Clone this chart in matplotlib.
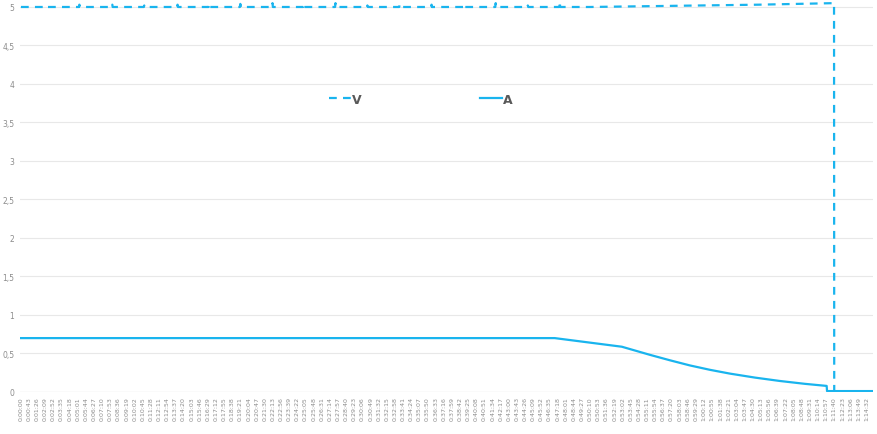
import matplotlib
matplotlib.use("Agg")
import matplotlib.pyplot as plt
from matplotlib.ticker import FuncFormatter

# time axis: one category per second, labels every 43 s
label_step = 43
n_labels = 105
x_max = 4505

# V (dashed) - baseline 5 with small spikes, slow rise, then cut off
v_spike_t = [139, 309, 483, 652, 828, 994, 1160, 1330, 1494, 1663, 1832,
             2002, 2171, 2341, 2510, 2680, 2849]
v_spike_h = [0.01, 0.03, 0.03, 0.02, 0.03, 0.04, 0.04, 0.05, 0.04, 0.05, 0.02,
             0.03, 0.03, 0.03, 0.05, 0.02, 0.07]
v_tail_t = [3006, 3300, 3600, 3900, 4200, 4299, 4300, 4505]
v_tail_v = [5.0, 5.01, 5.02, 5.03, 5.045, 5.05, 0.0, 0.0]

# A (solid)
a_t = [0, 2822, 3177, 3325, 3431, 3537, 3643, 3748, 3881, 4013, 4145, 4260, 4262, 4505]
a_v = [0.70, 0.70, 0.588, 0.483, 0.412, 0.345, 0.288, 0.239, 0.187, 0.143, 0.106, 0.079, 0.012, 0.012]

# build V polyline from baseline + spikes + tail
v_t = [0]
v_v = [5.0]
for t, h in zip(v_spike_t, v_spike_h):
    v_t += [t - 2, t, t + 2]
    v_v += [5.0, 5.0 + h, 5.0]
v_t += v_tail_t
v_v += v_tail_v

blue = "#19b4ee"
grey_txt = "#8c8c8c"

fig = plt.figure(figsize=(8.77, 4.35), dpi=100)
ax = fig.add_axes([20 / 877, 1 - 393 / 435, 853 / 877, (393 - 2.6) / 435])

ax.plot(v_t, v_v, color=blue, lw=1.6, dashes=(3.5, 2.8), label="V")
ax.plot(a_t, a_v, color=blue, lw=1.6, label="A")

ax.set_xlim(-5, x_max)
ax.set_ylim(0, 5.07)

yt = [i * 0.5 for i in range(11)]
ax.set_yticks(yt)
ax.yaxis.set_major_formatter(FuncFormatter(lambda v, p: ("%g" % v).replace(".", ",")))
ax.grid(axis="y", color="#e8e8e8", lw=0.8)
ax.set_axisbelow(True)

def fmt_time(s):
    return "%d:%02d:%02d" % (s // 3600, (s % 3600) // 60, s % 60)

xt = [k * label_step for k in range(n_labels)]
ax.set_xticks(xt)
ax.set_xticklabels([fmt_time(s) for s in xt], rotation=90, fontsize=4.5, color=grey_txt)
ax.tick_params(axis="y", labelsize=5.5, colors=grey_txt, length=0, pad=4)
ax.tick_params(axis="x", length=0, pad=3)

for s in ax.spines.values():
    s.set_visible(False)
ax.axhline(0, color="#d9d9d9", lw=0.8, zorder=0)

leg = ax.legend(loc="center", bbox_to_anchor=(0.47, 0.75), ncol=2, frameon=False,
                columnspacing=9.5, handlelength=1.7, handletextpad=0.1,
                prop={"weight": "bold", "size": 9})
for t in leg.get_texts():
    t.set_color("#595959")

fig.savefig("out.png", dpi=100)
